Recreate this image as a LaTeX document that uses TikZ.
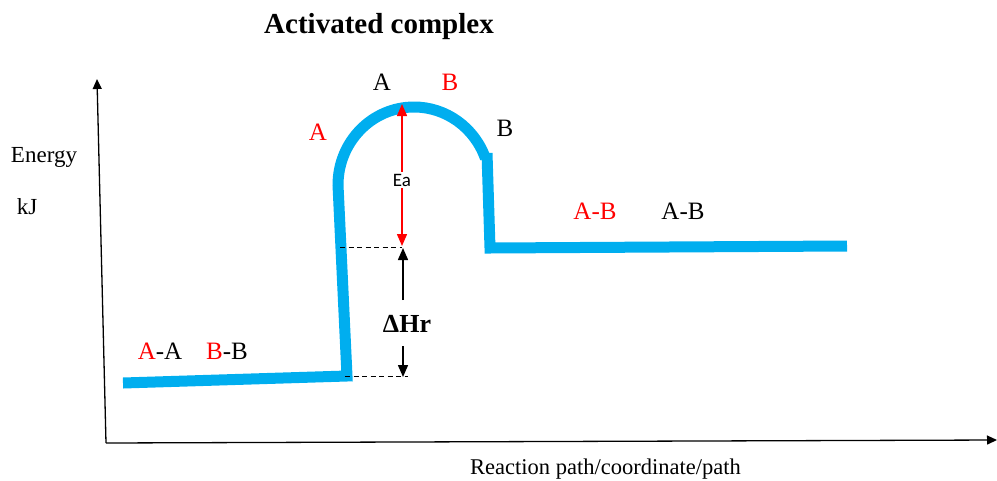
\documentclass[tikz,border=0pt]{standalone}
\usepackage{fontspec}
\setmainfont{Liberation Serif}
\newfontfamily\labelsans{Carlito}
\usetikzlibrary{arrows.meta}
\definecolor{curveblue}{HTML}{00AEEF}
\begin{document}
\begin{tikzpicture}[x=1pt,y=-1pt,
  curve/.style={draw=curveblue,line width=11pt},
  axis/.style={draw=black,line width=1.3pt,-{Triangle[length=10pt,width=9pt]}},
  guide/.style={draw=black,dashed,line width=1pt,dash pattern=on 5pt off 3.5pt},
  ea/.style={draw=red,line width=1.5pt,-{Triangle[length=12pt,width=10pt]}},
  hr/.style={draw=black,line width=1.5pt,-{Triangle[length=12pt,width=10pt]}},
  txt/.style={font=\fontsize{25}{28}\selectfont,inner sep=0pt},
  red/.style={text=red}]
\useasboundingbox (0,0) rectangle (997,480);
% axes
\coordinate (o) at (106,443);
\coordinate (ytip) at (97,79);
\coordinate (xtip) at (997,440);
\draw[axis] (o) -- (ytip);
\draw[axis] (o) -- (xtip);
% curve
\coordinate (c1) at (123,383);
\coordinate (c2) at (347,376);
\coordinate (c3) at (338,185);
\coordinate (c4) at (487,153);
\coordinate (c5) at (490,248);
\coordinate (c6) at (847,246);
\draw[curve] (c1) -- (c2) -- (c3) arc[start angle=180,end angle=20,x radius=76,y radius=-78];
\draw[curve] (c4) -- (c5) -- (c6);
% guides
\coordinate (g1a) at (340,247);
\coordinate (g1b) at (402,247);
\coordinate (g2a) at (345,376);
\coordinate (g2b) at (408,376);
\draw[guide] (g1a) -- (g1b);
\draw[guide] (g2a) -- (g2b);
% Ea arrow
\coordinate (eatop) at (402,104);
\coordinate (eabot) at (402,246);
\node[inner sep=2pt,fill=white,font=\labelsans\fontsize{19}{21}\selectfont] (ea) at (402,180) {Ea};
\draw[ea] (ea.north) -- (eatop);
\draw[ea] (ea.south) -- (eabot);
% dHr arrow
\node[txt,font=\fontsize{26}{28}\selectfont\bfseries] (dhr) at (407,324) {ΔHr};
\coordinate (hrtop) at (403,248);
\coordinate (hrbot) at (403,377);
\coordinate (hrs) at (403,300);
\coordinate (hre) at (403,346);
\draw[hr] (hrs) -- (hrtop);
\draw[hr] (hre) -- (hrbot);
% texts
\node[txt,font=\fontsize{29}{32}\selectfont\bfseries] (title) at (379,27) {Activated complex};
\node[txt] (a1) at (382,82) {A};
\node[txt,red] (b1) at (450,82) {B};
\node[txt,red] (a2) at (318,132) {A};
\node[txt] (b2) at (505,128) {B};
\node[txt,font=\fontsize{23}{26}\selectfont] (energy) at (44,157) {Energy};
\node[txt,font=\fontsize{23}{26}\selectfont] (kj) at (27,207) {kJ};
\node[txt] (p1) at (595,211) {\textcolor{red}{A-B}};
\node[txt] (p2) at (683,211) {A-B};
\node[txt] (r1) at (160,351) {\textcolor{red}{A}-A};
\node[txt] (r2) at (227,351) {\textcolor{red}{B}-B};
\node[txt,font=\fontsize{22.5}{25}\selectfont,anchor=west] (xl) at (470,469) {Reaction path/coordinate/path};
\end{tikzpicture}
\end{document}
